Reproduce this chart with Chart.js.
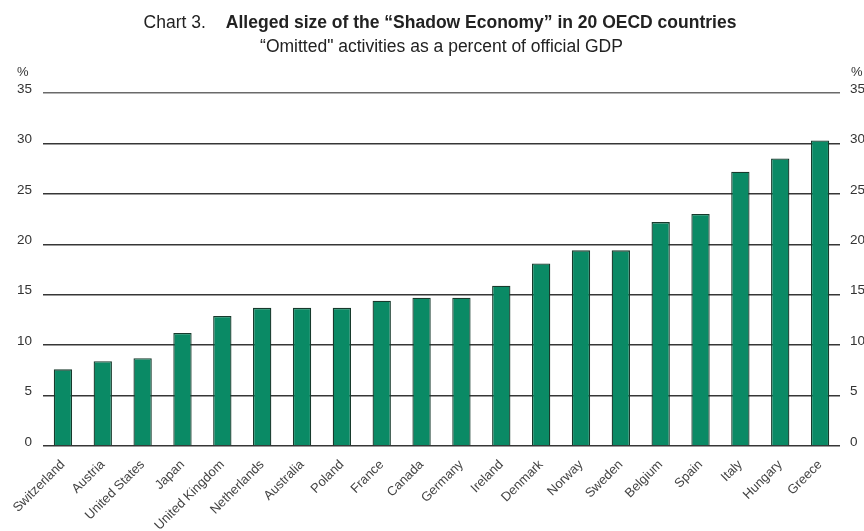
<!DOCTYPE html>
<html>
<head>
<meta charset="utf-8">
<script src="https://cdn.jsdelivr.net/npm/chart.js@4/dist/chart.umd.min.js"></script>
<style>
  html, body { margin: 0; padding: 0; background: #fff; }
  #wrap { position: relative; width: 864px; height: 531px; overflow: hidden; font-family: "Liberation Sans", Arial, sans-serif; color: #222; }
  #c { position: absolute; left: 0; top: 0; }
  .t { position: absolute; white-space: nowrap; line-height: 20px; }
  #title { left: 0; width: 880px; top: 12px; text-align: center; font-size: 17.5px; }
  #title .pre { font-weight: normal; margin-right: 20px; }
  #title .main { font-weight: bold; }
  #sub { left: 0; width: 883px; top: 36px; text-align: center; font-size: 17.5px; }
  .pct { font-size: 13px; color: #333; top: 62px; }
</style>
</head>
<body>
<div id="wrap">
  <canvas id="c" width="864" height="531"></canvas>
  <div class="t" id="title"><span class="pre">Chart 3.</span><span class="main">Alleged size of the “Shadow Economy” in 20 OECD countries</span></div>
  <div class="t" id="sub">“Omitted" activities as a percent of official GDP</div>
  <div class="t pct" style="left:17px;">%</div>
  <div class="t pct" style="left:851px;">%</div>
</div>
<script>
const countries = ["Switzerland","Austria","United States","Japan","United Kingdom","Netherlands","Australia","Poland","France","Canada","Germany","Ireland","Denmark","Norway","Sweden","Belgium","Spain","Italy","Hungary","Greece"];
const shadowEconomyPct = [7.6, 8.4, 8.7, 11.2, 12.9, 13.7, 13.7, 13.7, 14.4, 14.7, 14.7, 15.9, 18.1, 19.4, 19.4, 22.2, 23.0, 27.2, 28.5, 30.3];
const yTicks = [0, 5, 10, 15, 20, 25, 30, 35];

const tickFont = { family: "'Liberation Sans', Arial, sans-serif", size: 13.5 };
const xFont = { family: "'Liberation Sans', Arial, sans-serif", size: 13 };

new Chart(document.getElementById('c'), {
  type: 'bar',
  data: {
    labels: countries,
    datasets: [{
      data: shadowEconomyPct,
      backgroundColor: '#0a8a65',
      borderColor: '#173a2c',
      borderWidth: 1.3,
      barPercentage: 0.46,
      categoryPercentage: 1.0
    }]
  },
  options: {
    responsive: false,
    animation: false,
    layout: { padding: { top: 93, left: 0, right: 0, bottom: 0 } },
    plugins: { legend: { display: false }, tooltip: { enabled: false }, title: { display: false } },
    scales: {
      x: {
        grid: { display: false },
        border: { display: false },
        ticks: { font: xFont, color: '#444', minRotation: 45, maxRotation: 45, autoSkip: false, padding: 3 },
        afterFit: (s) => { s.height = 85; }
      },
      y: {
        position: 'left',
        min: 0, max: 35,
        afterBuildTicks: (s) => { s.ticks = yTicks.map(v => ({ value: v })); },
        grid: {
          color: (ctx) => ctx.tick && ctx.tick.value === 35 ? '#6a6a6a' : '#363636',
          lineWidth: 1.5,
          drawTicks: false
        },
        border: { display: false },
        ticks: { font: tickFont, color: '#333', padding: 11, labelOffset: -4 },
        afterFit: (s) => { s.width = 43; }
      },
      y2: {
        position: 'right',
        min: 0, max: 35,
        afterBuildTicks: (s) => { s.ticks = yTicks.map(v => ({ value: v })); },
        grid: { display: false, drawTicks: false },
        border: { display: false },
        ticks: { font: tickFont, color: '#333', padding: 10, labelOffset: -4 },
        afterFit: (s) => { s.width = 24; }
      }
    }
  }
});
</script>
</body>
</html>
